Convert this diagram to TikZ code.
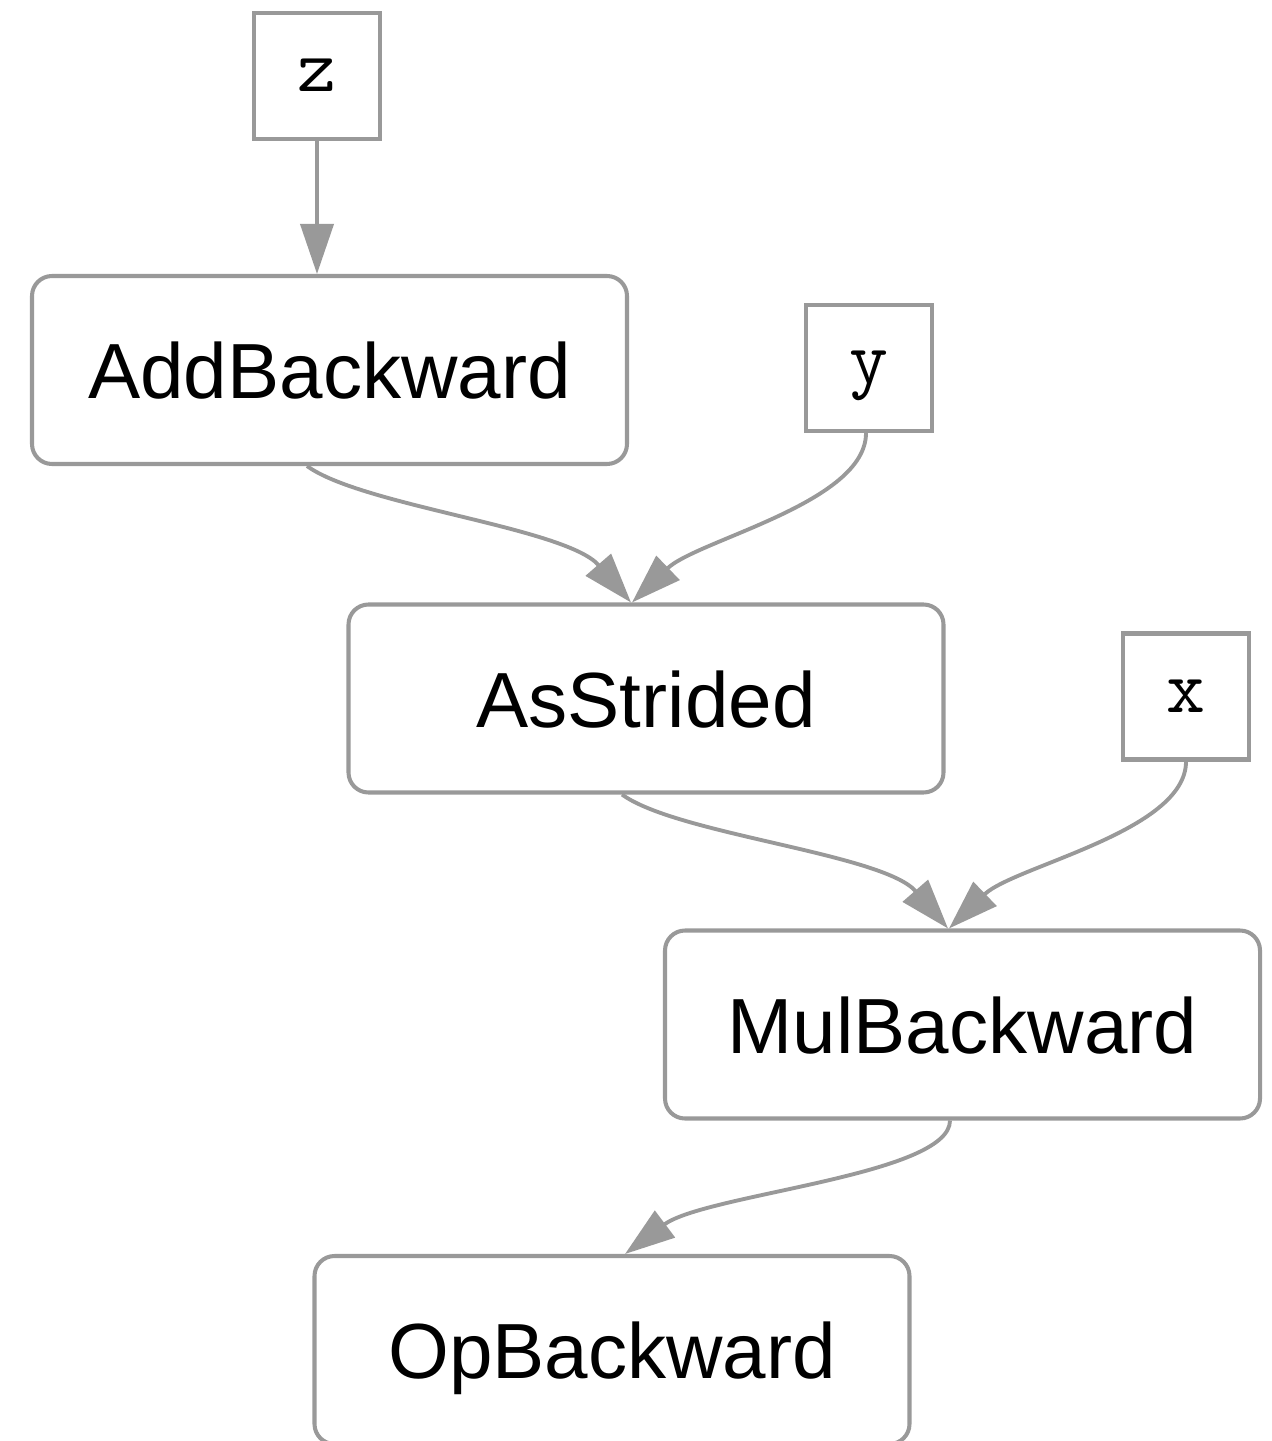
\documentclass[tikz,border=0pt]{standalone}
\usepackage{fontspec}
\setmainfont{Liberation Sans}
\usetikzlibrary{arrows.meta}
\definecolor{edgegray}{HTML}{999999}
\tikzstyle{graph_node}=[rectangle, draw=edgegray, line width=2.3pt, fill=white, rounded corners=0.4cm, minimum width=11.9cm, minimum height=3.76cm, text height=1.14cm, text depth=0pt, font=\fontsize{44.5}{53}\selectfont]
\tikzstyle{graph_leaf}=[rectangle, draw=edgegray, line width=2.3pt, fill=white, minimum width=2.52cm, minimum height=2.52cm, inner sep=0pt, text height=0.62cm, text depth=0pt, font=\fontsize{43}{53}\ttfamily]
\tikzstyle{graph_edge}=[draw=edgegray, line width=2.2pt, -{Triangle[length=1cm,width=0.66cm]}]

\begin{document}
\begin{tikzpicture}

            \useasboundingbox (0,0) rectangle (25.42,-28.82);

            % Leaves
            \node[graph_leaf] (leaf_z) at (6.34,-1.52) {z};
            \node[graph_leaf] (leaf_y) at (17.38,-7.36) {y};
            \node[graph_leaf] (leaf_x) at (23.72,-13.93) {x};

            % Backward functions
            \node[graph_node] (add_backward) at (6.59,-7.40) {AddBackward};
            \node[graph_node] (as_strided) at (12.92,-13.97) {AsStrided};
            \node[graph_node] (mul_backward) at (19.25,-20.49) {MulBackward};
            \node[graph_node] (op_backward) at (12.24,-27.0) {OpBackward};

            % Edges
            \draw[graph_edge] (leaf_z.south) -- (leaf_z.south |- add_backward.north);
            \draw[graph_edge] ([xshift=-0.45cm]add_backward.south) .. controls +(1.1,-0.8) and +(-1.3,1.5) .. ([xshift=-0.3cm]as_strided.north);
            \draw[graph_edge] ([xshift=-0.06cm]leaf_y.south) .. controls +(0,-1.4) and +(1.3,1.25) .. ([xshift=-0.28cm]as_strided.north);
            \draw[graph_edge] ([xshift=-0.48cm]as_strided.south) .. controls +(1.1,-0.8) and +(-1.3,1.5) .. ([xshift=-0.29cm]mul_backward.north);
            \draw[graph_edge] (leaf_x.south) .. controls +(0,-1.4) and +(1.3,1.25) .. ([xshift=-0.27cm]mul_backward.north);
            \draw[graph_edge] ([xshift=-0.25cm]mul_backward.south) .. controls +(0,-1.1) and +(1.6,1.2) .. ([xshift=0.26cm]op_backward.north);

        \end{tikzpicture}
\end{document}
